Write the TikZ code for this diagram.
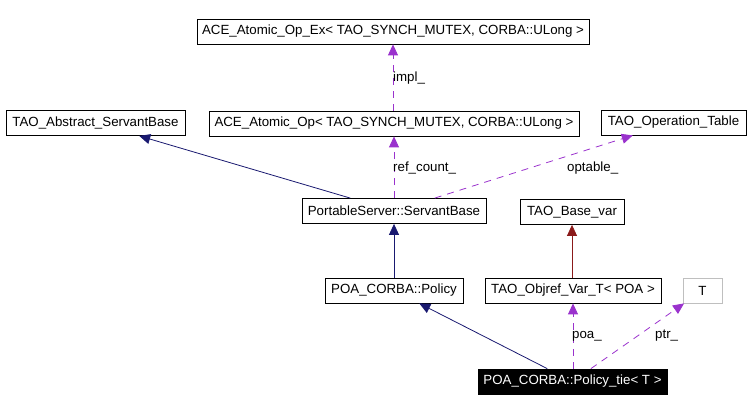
\documentclass[tikz,border=0pt]{standalone}
\usepackage{fontspec}
\setmainfont{Liberation Sans}
\usetikzlibrary{arrows.meta}
\definecolor{inhcol}{HTML}{191970}
\definecolor{usecol}{HTML}{9A32CD}
\definecolor{tplcol}{HTML}{8B1A1A}
\definecolor{graybd}{HTML}{BFBFBF}
\tikzset{
  cls/.style={draw=black, line width=0.8pt, fill=white, inner sep=0pt, minimum height=25pt, align=center, font=\fontsize{13.3}{16}\selectfont},
  lbl/.style={inner sep=0pt, anchor=west, font=\fontsize{13.3}{16}\selectfont},
  inh/.style={draw=inhcol, line width=0.8pt, -{Triangle[length=11pt,width=10pt]}},
  tpl/.style={draw=tplcol, line width=0.8pt, -{Triangle[length=11pt,width=10pt]}},
  use/.style={draw=usecol, line width=0.8pt, dash pattern=on 7pt off 6pt, -{Triangle[length=11pt,width=10pt]}},
}
\begin{document}
\begin{tikzpicture}[x=1pt,y=-1pt]
\useasboundingbox (0,0) rectangle (752,411);
\node[cls, minimum width=392pt] (ex) at (393,31.5) {ACE\_Atomic\_Op\_Ex< TAO\_SYNCH\_MUTEX, CORBA::ULong >};
\node[cls, minimum width=370pt] (op) at (394,123.5) {ACE\_Atomic\_Op< TAO\_SYNCH\_MUTEX, CORBA::ULong >};
\node[cls, minimum width=179pt] (abs) at (95.5,123) {TAO\_Abstract\_ServantBase};
\node[cls, minimum width=145pt] (optab) at (673.5,122.5) {TAO\_Operation\_Table};
\node[cls, minimum width=184pt] (sb) at (394,211) {PortableServer::ServantBase};
\node[cls, minimum width=104pt] (basevar) at (572,212) {TAO\_Base\_var};
\node[cls, minimum width=138pt] (policy) at (394,290.5) {POA\_CORBA::Policy};
\node[cls, minimum width=176pt] (objref) at (573,290.5) {TAO\_Objref\_Var\_T< POA >};
\node[cls, draw=graybd, minimum width=39pt] (T) at (702.5,290.5) {T};
\node[cls, fill=black, text=white, minimum width=189pt] (tie) at (572.5,381.5) {POA\_CORBA::Policy\_tie< T >};

\draw[use] (op.north -| ex.south) -- (ex.south);
\draw[use] (sb.north) -- (op.south);
\draw[inh] (sb) -- (abs);
\draw[use] (sb) -- (optab);
\draw[inh] (policy.north) -- (sb.south);
\draw[tpl] (objref.north -| basevar.south) -- (basevar.south);
\draw[inh] (tie) -- (policy);
\draw[use] (tie.north -| objref.south) -- (objref.south);
\draw[use] (tie) -- (T);

\node[lbl] (limpl) at (393,78) {impl\_};
\node[lbl] (lref) at (393,168) {ref\_count\_};
\node[lbl] (lopt) at (567,168) {optable\_};
\node[lbl] (lpoa) at (572,336) {poa\_};
\node[lbl] (lptr) at (655,336) {ptr\_};
\end{tikzpicture}
\end{document}
